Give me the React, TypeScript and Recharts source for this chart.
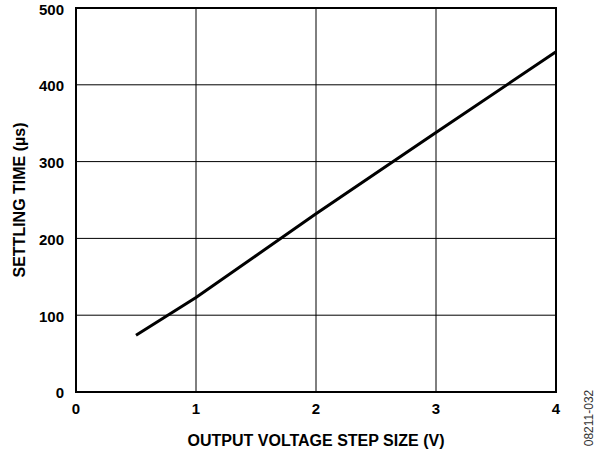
import React from 'react';
import { LineChart, Line, XAxis, YAxis, CartesianGrid, ReferenceArea, Label } from 'recharts';

const stepSizes = [0.5, 1, 2, 3, 4];
const settlingTimes = [74, 123, 232, 338, 443];
const xTicks = [0, 1, 2, 3, 4];
const yTicks = [0, 100, 200, 300, 400, 500];

const data = stepSizes.map((v, i) => ({ step: v, time: settlingTimes[i] }));

const FONT = '"Liberation Sans", Arial, sans-serif';
const tickStyle = { fontSize: 15, fontWeight: 700, fill: '#000', fontFamily: FONT };
const titleStyle = { fontSize: 16, fontWeight: 700, fill: '#000', fontFamily: FONT };

export default function App() {
  return (
    <div style={{ position: 'absolute', left: 0, top: 0, width: 597, height: 450, background: '#fff' }}>
      <LineChart width={597} height={450} data={data} margin={{ top: 8, right: 41, left: 0, bottom: 0 }}>
        <CartesianGrid stroke="#000" strokeWidth={1} />
        <XAxis
          dataKey="step"
          type="number"
          domain={[0, 4]}
          ticks={xTicks}
          height={58}
          axisLine={false}
          tickLine={false}
          tickSize={6}
          tickMargin={5}
          tick={tickStyle}
        >
          <Label value="OUTPUT VOLTAGE STEP SIZE (V)" position="insideBottom" offset={4} style={titleStyle} />
        </XAxis>
        <YAxis
          type="number"
          domain={[0, 500]}
          ticks={yTicks}
          width={76}
          axisLine={false}
          tickLine={false}
          tickSize={6}
          tickMargin={6}
          tick={{ ...tickStyle, dy: 1 }}
        >
          <Label
            value="SETTLING TIME (µs)"
            angle={-90}
            position="insideLeft"
            offset={19}
            style={{ ...titleStyle, textAnchor: 'middle' }}
          />
        </YAxis>
        <ReferenceArea x1={0} x2={4} y1={0} y2={500} fill="none" stroke="#000" strokeWidth={2} ifOverflow="visible" />
        <Line
          type="linear"
          dataKey="time"
          stroke="#000"
          strokeWidth={3}
          dot={false}
          activeDot={false}
          isAnimationActive={false}
        />
      </LineChart>
      <span
        style={{
          position: 'absolute',
          left: 589,
          top: 418,
          transform: 'translate(-50%, -50%) rotate(-90deg)',
          fontFamily: FONT,
          fontSize: 12,
          lineHeight: '12px',
          color: '#333',
          whiteSpace: 'nowrap',
        }}
      >
        08211-032
      </span>
    </div>
  );
}
